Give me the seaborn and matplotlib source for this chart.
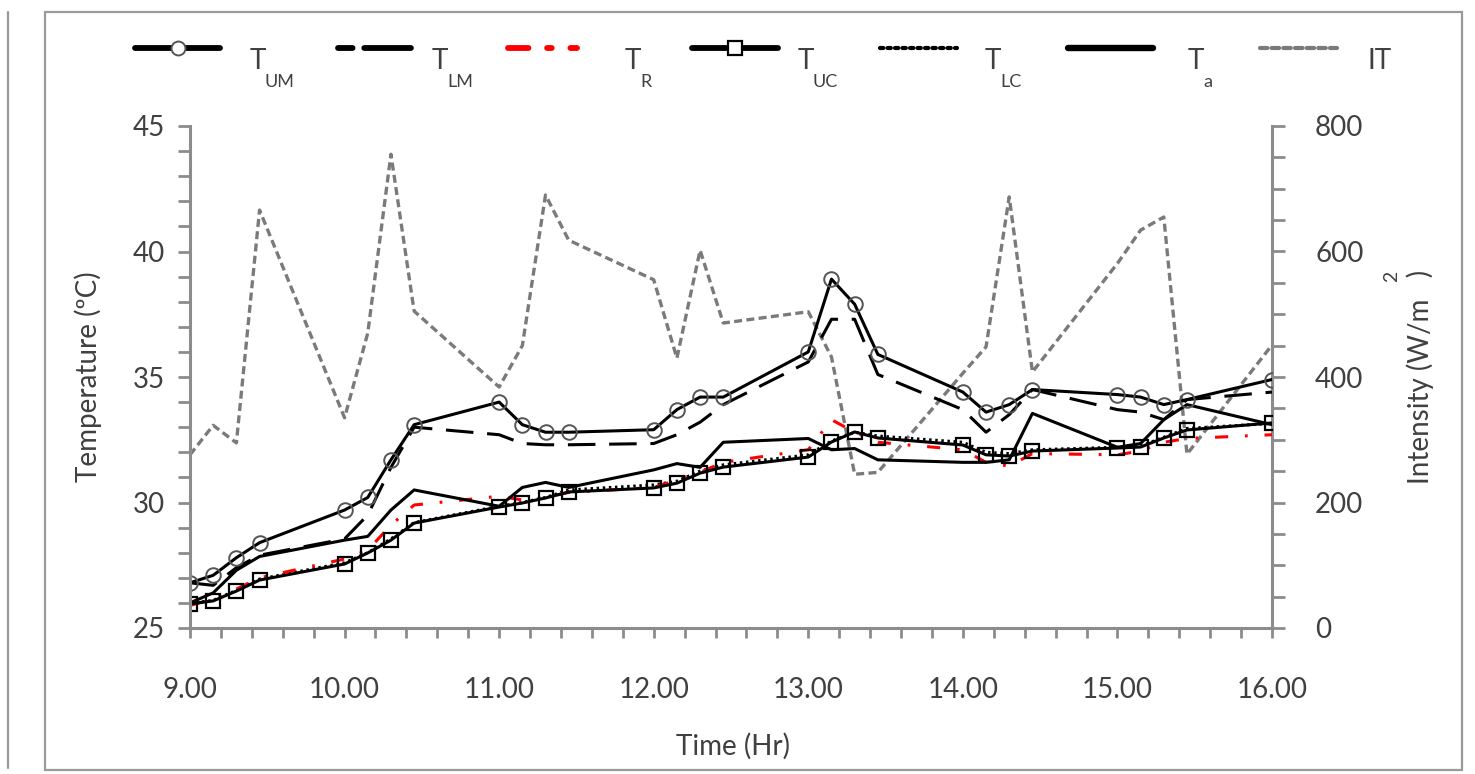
import numpy as np
import pandas as pd
import matplotlib
matplotlib.use("Agg")
import matplotlib.pyplot as plt
import seaborn as sns
from matplotlib.ticker import MultipleLocator, FixedLocator, FuncFormatter
from matplotlib.lines import Line2D
from matplotlib.patches import Rectangle

# ---------------- data ----------------
time = [9.00, 9.15, 9.30, 9.45, 10.00, 10.15, 10.30, 10.45, 11.00, 11.15,
        11.30, 11.45, 12.00, 12.15, 12.30, 12.45, 13.00, 13.15, 13.30, 13.45,
        14.00, 14.15, 14.30, 14.45, 15.00, 15.15, 15.30, 15.45, 16.00]

T_UM = [26.8, 27.1, 27.8, 28.4, 29.7, 30.2, 31.7, 33.1, 34.0, 33.1,
        32.8, 32.8, 32.9, 33.7, 34.2, 34.2, 36.0, 38.9, 37.9, 35.9,
        34.4, 33.6, 33.9, 34.5, 34.3, 34.2, 33.9, 34.1, 34.9]

T_LM = [26.8, 26.7, 27.4, 27.9, 28.55, 29.5, 31.4, 33.0, 32.7, 32.35,
        32.3, 32.3, 32.35, 32.7, 33.2, 33.9, 35.6, 37.3, 37.3, 35.1,
        33.7, 32.8, 33.5, 34.5, 33.7, 33.6, 33.3, 34.1, 34.4]

T_R = [25.9, 26.15, 26.55, 27.0, 27.75, 28.1, 29.1, 29.9, 30.25, 30.1,
       30.2, 30.4, 30.6, 30.9, 31.2, 31.6, 32.1, 33.3, 32.8, 32.4,
       32.1, 31.6, 31.45, 31.95, 31.9, 32.05, 32.4, 32.55, 32.7]

T_UC = [25.96, 26.08, 26.47, 26.91, 27.55, 27.99, 28.5, 29.18, 29.82, 29.98,
        30.18, 30.42, 30.58, 30.77, 31.17, 31.41, 31.81, 32.41, 32.81, 32.57,
        32.29, 31.9, 31.85, 32.05, 32.17, 32.21, 32.57, 32.89, 33.17]

T_LC = [25.98, 26.1, 26.5, 26.95, 27.6, 28.0, 28.55, 29.2, 29.85, 30.0,
        30.2, 30.5, 30.7, 30.85, 31.25, 31.5, 31.9, 32.45, 32.8, 32.65,
        32.4, 32.0, 31.95, 32.1, 32.2, 32.25, 32.6, 32.95, 33.15]

T_a = [26.0, 26.4, 27.3, 27.85, 28.5, 28.65, 29.7, 30.5, 29.85, 30.6,
       30.8, 30.6, 31.3, 31.55, 31.4, 32.4, 32.55, 32.1, 32.15, 31.7,
       31.6, 31.6, 31.7, 33.55, 32.2, 32.35, 33.3, 33.9, 33.1]

IT = [276, 323, 295, 666, 335, 470, 755, 505, 384, 450,
      690, 618, 555, 430, 602, 486, 504, 432, 245, 248,
      406, 448, 687, 408, 581, 634, 655, 277, 451]

x_ticks = [9, 10, 11, 12, 13, 14, 15, 16]
y_ticks = [25, 30, 35, 40, 45]
y2_ticks = [0, 200, 400, 600, 800]

# ---------------- style ----------------
sns.set_theme(style="white")
plt.rcParams["font.family"] = ["Lato", "DejaVu Sans"]

W, H = 1475, 774
fig = plt.figure(figsize=(W / 100, H / 100), dpi=100)
fig.patch.set_facecolor("white")

def fx(x):
    return x / W

def fy(y):
    return 1 - y / H

ax = fig.add_axes([fx(190), fy(628), (1272 - 190) / W, (628 - 126) / H])
ax2 = ax.twinx()
ax.set_zorder(ax2.get_zorder() + 1)
ax.patch.set_visible(False)

TXT = "#404040"
SP = "#8c8c8c"
LW = 2.2

df = pd.DataFrame({"time": time, "T_UM": T_UM, "T_LM": T_LM, "T_R": T_R,
                   "T_UC": T_UC, "T_LC": T_LC, "T_a": T_a, "IT": IT})

sty_IT = dict(color="#7a7a7a", linewidth=2.4, linestyle=(0, (2.4, 1.3)))
sty_LM = dict(color="black", linewidth=LW, linestyle=(0, (9, 4.5)))
sty_R = dict(color="#ff0000", linewidth=LW, linestyle=(0, (4.3, 5.5, 0.9, 5.5)))
sty_LC = dict(color="black", linewidth=LW, linestyle=(0, (0.8, 1.2)))
sty_a = dict(color="black", linewidth=LW, linestyle="-")
sty_UC = dict(color="black", linewidth=LW, linestyle="-", marker="s", markersize=10,
              markerfacecolor="none", markeredgecolor="black", markeredgewidth=1.6)
sty_UM = dict(color="black", linewidth=LW, linestyle="-", marker="o", markersize=10.5,
              markerfacecolor="none", markeredgecolor="#555555", markeredgewidth=1.4)

sns.lineplot(data=df, x="time", y="IT", ax=ax2, sort=False, **sty_IT)
sns.lineplot(data=df, x="time", y="T_LC", ax=ax, sort=False, **sty_LC)
sns.lineplot(data=df, x="time", y="T_R", ax=ax, sort=False, **sty_R)
sns.lineplot(data=df, x="time", y="T_a", ax=ax, sort=False, **sty_a)
sns.lineplot(data=df, x="time", y="T_LM", ax=ax, sort=False, **sty_LM)
sns.lineplot(data=df, x="time", y="T_UC", ax=ax, sort=False, **sty_UC)
sns.lineplot(data=df, x="time", y="T_UM", ax=ax, sort=False, **sty_UM)

# ---------------- axes ----------------
ax.set_xlim(9, 16)
ax.set_ylim(25, 45)
ax2.set_ylim(0, 800)
ax.xaxis.set_major_locator(FixedLocator(x_ticks))
ax.xaxis.set_major_formatter(FuncFormatter(lambda v, p: f"{v:.2f}"))
ax.xaxis.set_minor_locator(MultipleLocator(0.2))
ax.yaxis.set_major_locator(FixedLocator(y_ticks))
ax.yaxis.set_minor_locator(MultipleLocator(1))
ax2.yaxis.set_major_locator(FixedLocator(y2_ticks))
ax2.yaxis.set_minor_locator(MultipleLocator(50))

for a in (ax, ax2):
    for s in a.spines.values():
        s.set_visible(False)
ax.spines["left"].set_visible(True)
ax.spines["bottom"].set_visible(True)
ax2.spines["right"].set_visible(True)
for s in (ax.spines["left"], ax.spines["bottom"], ax2.spines["right"]):
    s.set_color(SP)
    s.set_linewidth(2.2)

ax.tick_params(axis="x", which="both", direction="out", color=SP, width=2, length=7,
               bottom=True, labelsize=20, labelcolor=TXT, pad=28)
ax.tick_params(axis="y", which="both", direction="out", color=SP, width=2, length=9,
               left=True, labelsize=20, labelcolor=TXT, pad=9)
ax2.tick_params(axis="y", which="both", direction="out", color=SP, width=2, length=9,
                right=True, labelsize=20, labelcolor=TXT, pad=22)

ax.set_xlabel("Time (Hr)", fontsize=20, color=TXT)
ax.set_ylabel("Temperature (ºC)", fontsize=20, color=TXT)
ax2.set_ylabel("Intensity (W/m   )", fontsize=20, color=TXT, rotation=90)
ax.xaxis.set_label_coords(0.502, -0.208)
ax.yaxis.set_label_coords(-0.081, 0.5)
ax2.yaxis.set_label_coords(1.124, 0.5)
fig.text(fx(1392), fy(276), "2", fontsize=14, color=TXT, rotation=90,
         ha="center", va="center")

# ---------------- legend (top row) ----------------
items = [
    (135, 220, dict(color="black", lw=4.2, ls="-", marker="o", ms=10,
                    mfc="white", mec="#555555", mew=1.4), 250, "T", "UM"),
    (338, 412, dict(color="black", lw=4.2, ls=(0, (2.5, 2.0, 8, 2.0))), 432, "T", "LM"),
    (508, 577, dict(color="#ff0000", lw=4.2, ls=(0, (3.5, 3.2, 0.8, 3.2))), 625, "T", "R"),
    (692, 778, dict(color="black", lw=4.2, ls="-", marker="s", ms=10,
                    mfc="white", mec="black", mew=1.6), 798, "T", "UC"),
    (880, 957, dict(color="black", lw=3.0, ls=(0, (0.8, 1.0))), 985, "T", "LC"),
    (1068, 1153, dict(color="black", lw=4.6, ls="-"), 1188, "T", "a"),
    (1260, 1337, dict(color="#7a7a7a", lw=3.0, ls=(0, (1.8, 1.0))), 1368, "IT", None),
]
for x0, x1, kw, tx, lab, sub in items:
    mk = kw.pop("marker", None)
    ms = kw.pop("ms", None)
    mfc = kw.pop("mfc", None)
    mec = kw.pop("mec", None)
    mew = kw.pop("mew", None)
    fig.add_artist(Line2D([fx(x0), fx(x1)], [fy(48), fy(48)], transform=fig.transFigure,
                          solid_capstyle="round", dash_capstyle="round", **kw))
    if mk:
        fig.add_artist(Line2D([fx((x0 + x1) / 2)], [fy(48)], transform=fig.transFigure,
                              marker=mk, markersize=ms, markerfacecolor=mfc,
                              markeredgecolor=mec, markeredgewidth=mew, linestyle="none"))
    fig.text(fx(tx), fy(69), lab, fontsize=20, color=TXT, ha="left", va="baseline")
    if sub:
        fig.text(fx(tx + 15), fy(87), sub, fontsize=13, color=TXT, ha="left", va="baseline")

# ---------------- frame ----------------
fig.add_artist(Rectangle((fx(45), fy(770)), (1462 - 45) / W, (770 - 12) / H, fill=False,
                         edgecolor="#9a9a9a", lw=1.6, transform=fig.transFigure))
fig.add_artist(Line2D([fx(8), fx(8)], [fy(12), fy(768)], transform=fig.transFigure,
                      color="#9a9a9a", lw=1.6))

fig.savefig("out.png", dpi=100, facecolor="white")
